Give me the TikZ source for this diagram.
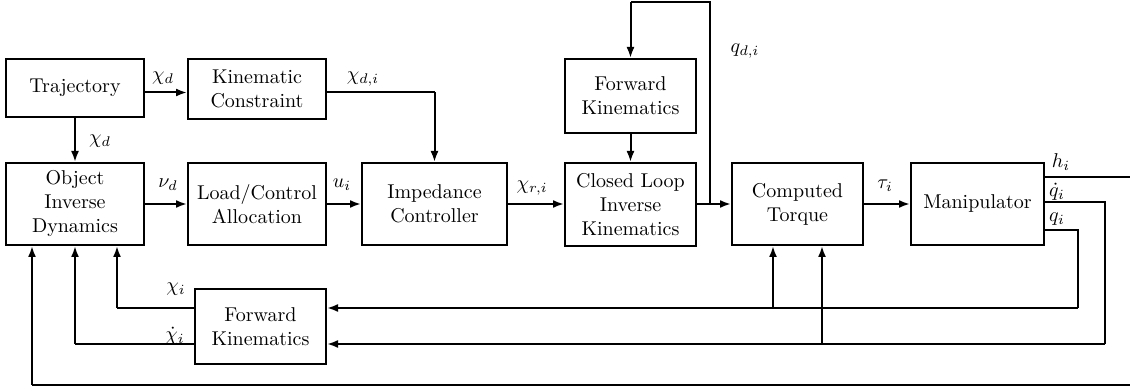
\documentclass[tikz,border=0pt]{standalone}
\usetikzlibrary{arrows.meta}
\begin{document}
\begin{tikzpicture}[x=0.5pt,y=-0.5pt,
  box/.style={draw,line width=1pt,align=center,inner sep=0pt},
  arr/.style={-{Latex[length=5.5pt,width=4pt]},line width=1pt},
  ln/.style={line width=1pt},
  lab/.style={inner sep=0pt}]
\useasboundingbox (0,0) rectangle (1130,389);
% blocks
\node[box,minimum width=69pt,minimum height=29pt] (traj) at (75,88) {Trajectory};
\node[box,minimum width=69pt,minimum height=30pt] (kin) at (257,89) {Kinematic\\Constraint};
\node[box,minimum width=69pt,minimum height=41pt] (oid) at (75,204) {Object\\Inverse\\Dynamics};
\node[box,minimum width=69pt,minimum height=41pt] (lca) at (257,204) {Load/Control\\Allocation};
\node[box,minimum width=72.5pt,minimum height=41pt] (imp) at (434.5,204) {Impedance\\Controller};
\node[box,minimum width=65.5pt,minimum height=41.5pt] (clik) at (630.5,204.5) {Closed Loop\\Inverse\\Kinematics};
\node[box,minimum width=65.5pt,minimum height=37pt] (fka) at (630.5,96) {Forward\\Kinematics};
\node[box,minimum width=65.5pt,minimum height=41pt] (ct) at (797.5,204) {Computed\\Torque};
\node[box,minimum width=66.5pt,minimum height=41pt] (man) at (977.5,204) {Manipulator};
\node[box,minimum width=65.5pt,minimum height=37.5pt] (fkb) at (260.5,326.5) {Forward\\Kinematics};
% helper coordinates
\coordinate (ytk) at (0,92.5);
\coordinate (ymain) at (0,204);
\coordinate (br) at (710,204);
\coordinate (topR) at (710,2);
\coordinate (topL) at (630.5,2);
\coordinate (hA) at (1140,177);
\coordinate (hB) at (1140,385);
\coordinate (hC) at (32,385);
\coordinate (qdA) at (1105,202);
\coordinate (qdB) at (1105,344);
\coordinate (qdJ) at (822,344);
\coordinate (qA) at (1078,230);
\coordinate (qB) at (1078,308);
\coordinate (qJ) at (773,308);
\coordinate (xiA) at (117,308);
\coordinate (xdA) at (75,344);
\coordinate (kinR) at (434.5,92.5);
% connectors
\draw[arr] (traj.east |- ytk) -- (kin.west |- ytk);
\draw[arr] (traj.south) -- (oid.north);
\draw[ln] (kin.east |- ytk) -- (kinR);
\draw[arr] (kinR) -- (imp.north);
\draw[arr] (oid.east) -- (lca.west);
\draw[arr] (lca.east) -- (imp.west);
\draw[arr] (imp.east) -- (clik.west |- ymain);
\draw[arr] (clik.east |- ymain) -- (ct.west);
\draw[ln] (br) -- (topR) -- (topL);
\draw[arr] (topL) -- (fka.north);
\draw[arr] (fka.south) -- (clik.north);
\draw[arr] (ct.east) -- (man.west);
% outputs of manipulator
\draw[ln] (man.east |- hA) -- (hA) -- (hB) -- (hC);
\draw[arr] (hC) -- (oid.south -| hC);
\draw[ln] (man.east |- qdA) -- (qdA) -- (qdB);
\draw[arr] (qdB) -- (fkb.east |- qdB);
\draw[arr] (qdJ) -- (ct.south -| qdJ);
\draw[ln] (man.east |- qA) -- (qA) -- (qB);
\draw[arr] (qB) -- (fkb.east |- qB);
\draw[arr] (qJ) -- (ct.south -| qJ);
% forward kinematics outputs
\draw[ln] (fkb.west |- xiA) -- (xiA);
\draw[arr] (xiA) -- (oid.south -| xiA);
\draw[ln] (fkb.west |- xdA) -- (xdA);
\draw[arr] (xdA) -- (oid.south -| xdA);
% labels
\node[lab] (l1) at (163,78) {$\chi_d$};
\node[lab] (l2) at (100,141) {$\chi_d$};
\node[lab] (l3) at (363,79) {$\chi_{d,i}$};
\node[lab] (l4) at (168,185) {$\nu_d$};
\node[lab] (l5) at (342,185) {$u_i$};
\node[lab] (l6) at (532,188) {$\chi_{r,i}$};
\node[lab] (l7) at (745,51) {$q_{d,i}$};
\node[lab] (l8) at (885,186) {$\tau_i$};
\node[lab] (l9) at (1061,162) {$h_i$};
\node[lab] (l10) at (1057,192) {$\dot q_i$};
\node[lab] (l11) at (1057,219) {$q_i$};
\node[lab] (l12) at (176,289) {$\chi_i$};
\node[lab] (l13) at (175,336) {$\dot\chi_i$};
\end{tikzpicture}
\end{document}
